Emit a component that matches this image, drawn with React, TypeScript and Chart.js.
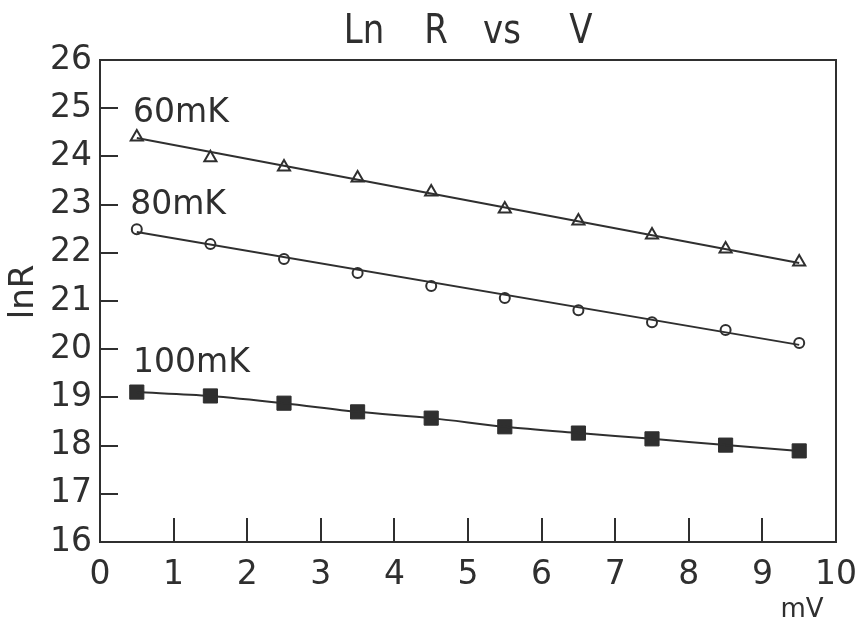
import React, { useEffect, useRef } from "react";
import { Chart, registerables } from "chart.js";

Chart.register(...registerables);

// ---- data ----
const voltages = [0.5, 1.5, 2.5, 3.5, 4.5, 5.5, 6.5, 7.5, 8.5, 9.5];
const lnR60 = [24.4, 23.97, 23.78, 23.55, 23.26, 22.91, 22.66, 22.37, 22.08, 21.81];
const lnR80 = [22.49, 22.18, 21.87, 21.58, 21.31, 21.06, 20.81, 20.56, 20.4, 20.13];
const lnR100 = [19.11, 19.03, 18.88, 18.7, 18.57, 18.39, 18.26, 18.14, 18.01, 17.89];
const fitV = [0.5, 9.5];
const fit60 = [24.38, 21.79];
const fit80 = [22.43, 20.09];

const titleWords = ["Ln", "R", "vs", "V"];
const seriesNames = ["60mK", "80mK", "100mK"];
const seriesLabelAnchors = [
  [0.45, 24.71],
  [0.41, 22.8],
  [0.45, 19.53],
];
const xTicks = [0, 1, 2, 3, 4, 5, 6, 7, 8, 9, 10];
const yTicks = [16, 17, 18, 19, 20, 21, 22, 23, 24, 25, 26];

const INK = "#2f2f2f";
const FONT = "'DejaVu Sans', sans-serif";

const pts = (xs: number[], ys: number[]) => xs.map((x, i) => ({ x, y: ys[i] }));

const decorPlugin = {
  id: "decor",
  afterDraw(chart: any) {
    const { ctx, chartArea: a, scales } = chart;
    const xs = scales.x;
    const ys = scales.y;
    ctx.save();
    ctx.strokeStyle = INK;
    ctx.fillStyle = INK;
    ctx.lineWidth = 2;
    ctx.strokeRect(a.left, a.top, a.right - a.left, a.bottom - a.top);
    // inner ticks
    ctx.beginPath();
    xTicks.slice(1, -1).forEach((v) => {
      const px = Math.round(xs.getPixelForValue(v));
      ctx.moveTo(px, a.bottom);
      ctx.lineTo(px, a.bottom - 24);
    });
    yTicks.slice(1, -1).forEach((v) => {
      const py = Math.round(ys.getPixelForValue(v));
      ctx.moveTo(a.left, py);
      ctx.lineTo(a.left + 18, py);
    });
    ctx.stroke();

    // title
    ctx.font = `40px ${FONT}`;
    ctx.textAlign = "center";
    ctx.textBaseline = "alphabetic";
    const titleCenters = [364, 436, 502, 581];
    titleWords.forEach((w, i) => {
      ctx.save();
      ctx.translate(titleCenters[i], 43);
      ctx.scale(0.85, 1);
      ctx.fillText(w, 0, 0);
      ctx.restore();
    });

    // series labels
    ctx.font = `33px ${FONT}`;
    ctx.textAlign = "left";
    seriesNames.forEach((n, i) => {
      const [vx, vy] = seriesLabelAnchors[i];
      ctx.fillText(n, xs.getPixelForValue(vx), ys.getPixelForValue(vy));
    });

    // axis titles
    ctx.font = `26px ${FONT}`;
    ctx.textAlign = "center";
    ctx.fillText("mV", 802, 617);

    ctx.translate(33, 292);
    ctx.rotate(-Math.PI / 2);
    ctx.font = `34px ${FONT}`;
    ctx.textAlign = "center";
    ctx.fillText("lnR", 0, 0);
    ctx.restore();
  },
};

export default function App() {
  const ref = useRef<HTMLCanvasElement>(null);
  useEffect(() => {
    document.body.style.margin = "0";
    const canvas = ref.current!;
    const lineStyle = {
      borderColor: INK,
      borderWidth: 2,
      pointRadius: 0,
      showLine: true,
      fill: false,
    };
    const chart = new Chart(canvas, {
      type: "scatter",
      data: {
        datasets: [
          { ...lineStyle, label: "fit60", data: pts(fitV, fit60) },
          { ...lineStyle, label: "fit80", data: pts(fitV, fit80) },
          {
            ...lineStyle,
            label: "100mK line",
            data: pts(voltages, lnR100),
            tension: 0.3,
          },
          {
            label: "60mK",
            data: pts(voltages, lnR60),
            pointStyle: "triangle",
            pointRadius: 7,
            pointBackgroundColor: "#ffffff",
            pointBorderColor: INK,
            pointBorderWidth: 2,
            showLine: false,
          },
          {
            label: "80mK",
            data: pts(voltages, lnR80),
            pointStyle: "circle",
            pointRadius: 5,
            pointBackgroundColor: "#ffffff",
            pointBorderColor: INK,
            pointBorderWidth: 2,
            showLine: false,
          },
          {
            label: "100mK",
            data: pts(voltages, lnR100),
            pointStyle: "rect",
            pointRadius: 10,
            pointBackgroundColor: INK,
            pointBorderColor: INK,
            pointBorderWidth: 1,
            showLine: false,
          },
        ],
      },
      options: {
        responsive: false,
        animation: false,
        layout: { padding: { left: 0, top: 60, right: 26, bottom: 0 } },
        plugins: {
          legend: { display: false },
          tooltip: { enabled: false },
          title: { display: false },
        },
        scales: {
          x: {
            type: "linear",
            min: 0,
            max: 10,
            afterFit: (s: any) => {
              s.height = 78;
              s.paddingLeft = 0;
              s.paddingRight = 0;
            },
            afterBuildTicks: (s: any) => {
              s.ticks = xTicks.map((v) => ({ value: v }));
            },
            grid: { display: false, drawTicks: false },
            border: { display: false },
            ticks: {
              autoSkip: false,
              maxRotation: 0,
              padding: 14,
              color: INK,
              font: { family: FONT, size: 33 },
            },
          },
          y: {
            type: "linear",
            min: 16,
            max: 26,
            afterFit: (s: any) => {
              s.width = 100;
              s.paddingTop = 0;
              s.paddingBottom = 0;
            },
            afterBuildTicks: (s: any) => {
              s.ticks = yTicks.map((v) => ({ value: v }));
            },
            grid: { display: false, drawTicks: false },
            border: { display: false },
            ticks: {
              autoSkip: false,
              padding: 8,
              color: INK,
              font: { family: FONT, size: 33 },
            },
          },
        },
      },
      plugins: [decorPlugin],
    } as any);
    return () => chart.destroy();
  }, []);
  return (
    <div style={{ width: 862, height: 620, background: "#fff" }}>
      <canvas ref={ref} width={862} height={620} style={{ display: "block" }} />
    </div>
  );
}
